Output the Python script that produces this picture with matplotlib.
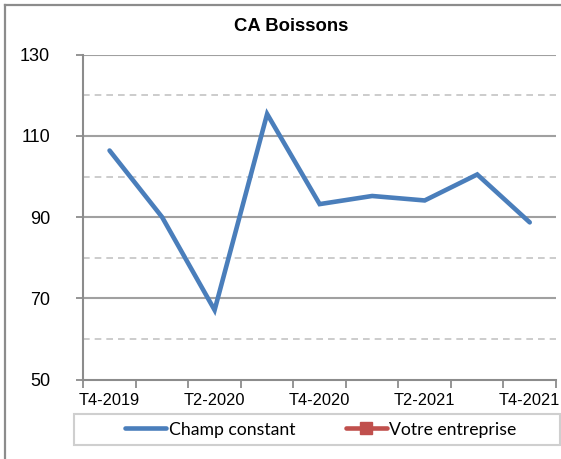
import matplotlib
matplotlib.use("Agg")
import matplotlib.pyplot as plt
import numpy as np
from matplotlib.patches import Rectangle
from matplotlib.lines import Line2D

# quarters and values
quarters = ["T4-2019", "T1-2020", "T2-2020", "T3-2020", "T4-2020",
            "T1-2021", "T2-2021", "T3-2021", "T4-2021"]
champ_constant = [106.4, 90.0, 67.1, 115.4, 93.2, 95.2, 94.1, 100.5, 88.7]
votre_entreprise = []  # empty in the reference, only shown in the legend

major_y = [50, 70, 90, 110, 130]
minor_y = [60, 80, 100, 120]

blue = "#4A7EBB"
red = "#C0504D"
W, H = 561, 459

fig = plt.figure(figsize=(W / 100, H / 100), dpi=100)

# axes placed in pixel terms
left, right, top, bottom = 83.3, 556, 54.7, 379.5
ax = fig.add_axes([left / W, 1 - bottom / H, (right - left) / W, (bottom - top) / H])

x = np.arange(len(quarters))
ax.plot(x, champ_constant, color=blue, lw=3.3, solid_capstyle="round",
        solid_joinstyle="miter", zorder=3)

ax.set_xlim(-0.5, len(quarters) - 0.5)
ax.set_ylim(50, 130)

# gridlines
for v in major_y[1:]:
    ax.axhline(v, color="#A0A0A0", lw=1.5, zorder=1)
for v in minor_y:
    ax.axhline(v, color="#C4C4C4", lw=1.2, ls=(0, (4, 3)), zorder=1)

# y ticks
ax.set_yticks(major_y)
ax.set_yticklabels([str(v) for v in major_y], fontsize=13, family="Liberation Sans")
ax.tick_params(axis="y", length=5, width=1.3, color="#8C8C8C", pad=19)

# x ticks: ticks on category boundaries, labels every other quarter
ax.set_xticks(np.arange(len(quarters) + 1) - 0.5)
ax.set_xticklabels([])
ax.set_xticks(x[::2], minor=True)
ax.set_xticklabels(quarters[::2], minor=True, fontsize=11.8, family="Liberation Sans")
ax.tick_params(axis="x", which="major", length=5.5, width=1.3, color="#8C8C8C")
ax.tick_params(axis="x", which="minor", length=0, pad=10)

for s in ["top", "right"]:
    ax.spines[s].set_visible(False)
ax.spines["left"].set_color("#8C8C8C")
ax.spines["left"].set_linewidth(1.5)
ax.spines["bottom"].set_color("#8C8C8C")
ax.spines["bottom"].set_linewidth(1.5)

# title
fig.text(290.8 / W, 1 - 26.7 / H, "CA Boissons", ha="center", va="center",
         fontsize=13.3, fontweight="bold", family="Liberation Sans")

# outer chart border (left and top edges visible)
fig.add_artist(Line2D([5 / W, 5 / W], [0, 1 - 5 / H], color="#8C8C8C", lw=1.6,
                      transform=fig.transFigure))
fig.add_artist(Line2D([5 / W, 1], [1 - 5 / H, 1 - 5 / H], color="#8C8C8C", lw=1.6,
                      transform=fig.transFigure))

# legend box
lx0, lx1, ly0, ly1 = 74, 560, 414.3, 445
fig.add_artist(Rectangle((lx0 / W, 1 - ly1 / H), (lx1 - lx0) / W, (ly1 - ly0) / H,
                         transform=fig.transFigure, fill=False,
                         edgecolor="#CFCFCF", lw=1.5))
handles = [
    Line2D([], [], color=blue, lw=3.3, solid_capstyle="round"),
    Line2D([], [], color=red, lw=3.3, marker="s", markersize=8.5, solid_capstyle="round"),
]
fig.legend(handles, ["Champ constant", "Votre entreprise"], loc="center",
           bbox_to_anchor=(321 / W, 1 - (ly0 + ly1) / 2 / H),
           ncol=2, frameon=False, prop={"family": "Lato", "size": 12.7},
           handlelength=2.3, handletextpad=0.15, columnspacing=2.9,
           borderpad=0, borderaxespad=0)

fig.savefig("out.png", dpi=100)
